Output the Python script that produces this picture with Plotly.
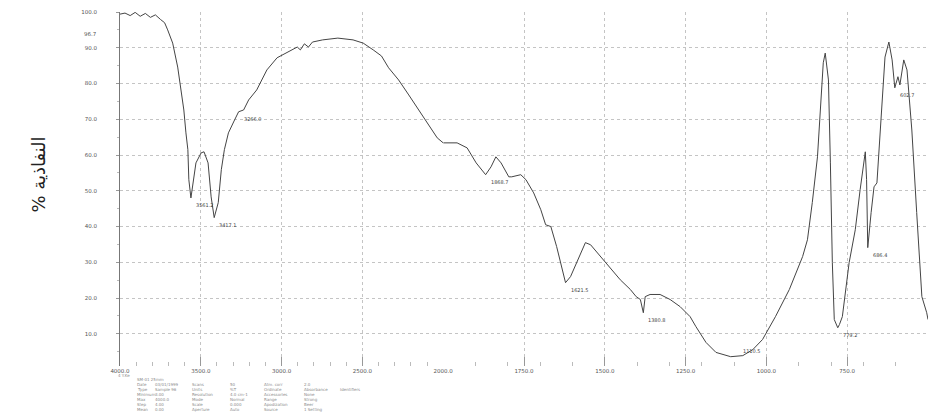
import plotly.graph_objects as go

# FT-IR spectrum: wavenumber (cm-1) against transmittance (%T)
wavenumber = [
    4000, 3969, 3937, 3906, 3875, 3843, 3812, 3781, 3749, 3724, 3705, 3674, 3643, 3624,
    3605, 3592, 3580, 3574, 3530, 3498, 3480, 3455, 3436, 3392, 3373, 3354, 3329, 3291,
    3235, 3204, 3154, 3091, 3028, 2965, 2903, 2884, 2859, 2834, 2809, 2746, 2652, 2558,
    2495, 2433, 2401, 2382, 2338, 2276, 2213, 2150, 2087, 2037, 2000, 1957, 1926, 1898,
    1852, 1837, 1821, 1797, 1788, 1760, 1744, 1720, 1698, 1683, 1667, 1649, 1637, 1606,
    1587, 1560, 1544, 1526, 1498, 1452, 1421, 1403, 1390, 1375, 1360, 1329, 1298, 1267,
    1236, 1218, 1187, 1156, 1073, 1042, 1012, 972, 929, 888, 873, 858, 842, 833, 824,
    818, 808, 802, 796, 790, 785, 782, 774, 765, 744, 725, 710, 694, 690, 676, 667, 658,
    642, 633, 621, 611, 593, 587, 575, 565, 550, 535, 519, 504, 500,
]
transmittance = [
    99.4, 99.7, 99.0, 99.9, 98.8, 99.6, 98.5, 99.2, 97.9, 97.0, 95.0, 91.3, 84.6, 79.1,
    72.6, 66.2, 61.5, 53.1, 57.8, 60.6, 60.9, 57.8, 48.3, 46.7, 55.9, 61.5, 66.2, 69.8,
    72.6, 75.4, 78.2, 83.8, 87.2, 88.8, 90.2, 89.4, 91.1, 90.2, 91.6, 92.2, 92.7, 92.2,
    91.3, 89.4, 88.3, 87.7, 84.4, 81.0, 76.8, 72.6, 68.4, 64.8, 63.4, 63.4, 62.0, 57.8,
    56.7, 59.5, 57.8, 53.9, 53.9, 54.5, 53.1, 49.4, 44.7, 40.5, 40.0, 34.4, 29.9, 26.0,
    29.9, 35.5, 34.9, 33.0, 29.9, 25.1, 22.4, 20.4, 19.6, 20.4, 21.0, 21.0, 19.6, 17.6,
    14.8, 12.0, 7.6, 4.8, 3.9, 5.6, 8.4, 14.8, 22.4, 31.6, 36.3, 46.7, 59.5, 71.8, 85.8,
    88.5, 81.0, 57.8, 29.9, 14.0, 13.1, 12.6, 12.6, 14.8, 29.9, 39.1, 50.3, 60.9, 53.1, 43.9, 51.1, 52.2,
    76.3, 87.4, 91.6, 86.6, 81.9, 79.6, 86.6, 83.8, 67.0, 43.9, 20.4, 15.9, 14.0,
]

# labelled band positions
peak_wavenumber = [3561.2, 3417.1, 3266.0, 1868.7, 1621.5, 1380.8, 1110.5, 779.2, 686.4, 602.7]
peak_transmittance = [48.0, 42.5, 72.1, 54.5, 24.3, 15.9, 3.6, 11.7, 34.1, 78.8]

high_ticks = [4000, 3500, 3000, 2500, 2000]
low_ticks = [1750, 1500, 1250, 1000, 750, 500]
t_ticks = [10, 20, 30, 40, 50, 60, 70, 80, 90, 100]

y_title = "% النفاذية"

info_rows = [
    ["Date", "Type", "Minimum", "Max", "Step", "Mean"],
    ["03/01/1999", "Sample 96", "3.00", "4000.0", "4.00", "0.00"],
    ["Scans", "Units", "Resolution", "Mode", "Scale", "Aperture"],
    ["50", "%T", "4.0 cm-1", "Normal", "0.000", "Auto"],
    ["Atm. corr", "Ordinate", "Accessories", "Range", "Apodization", "Source"],
    ["2.0", "Absorbance", "None", "Strong", "Beer", "1 Setting"],
]

# merge the band points into the curve so every label sits on the drawn line
pts = sorted(zip(wavenumber + peak_wavenumber, transmittance + peak_transmittance), reverse=True)
high = [p for p in pts if p[0] >= 2000]
low = [p for p in pts if p[0] <= 2000]

LINE = dict(color="#444", width=1)
fig = go.Figure()
fig.add_trace(go.Scatter(x=[p[0] for p in high], y=[p[1] for p in high], mode="lines",
                         line=LINE, xaxis="x", yaxis="y", hoverinfo="skip"))
fig.add_trace(go.Scatter(x=[p[0] for p in low], y=[p[1] for p in low], mode="lines",
                         line=LINE, xaxis="x2", yaxis="y", hoverinfo="skip"))

tick_font = dict(family="DejaVu Sans", size=5.5, color="#555")
small_font = dict(family="DejaVu Sans", size=4, color="#8a8a8a")
grid = dict(showgrid=True, gridcolor="#c4c4c4", gridwidth=1, griddash="dot", zeroline=False)
xcommon = dict(tickformat=".1f", ticks="inside", ticklen=9, tickcolor="#999", tickwidth=1,
               showline=False, tickfont=tick_font, anchor="y", automargin=False,
               minor=dict(ticks="inside", ticklen=4, tickcolor="#bbb", showgrid=False), **grid)

PLOT_L, PLOT_R, PLOT_T, PLOT_B = 120, 928, 12, 366
W, H = 930, 417

fig.update_layout(
    width=W, height=H,
    margin=dict(l=PLOT_L, r=W - PLOT_R, t=PLOT_T, b=H - PLOT_B, autoexpand=False),
    paper_bgcolor="white", plot_bgcolor="white",
    showlegend=False,
    xaxis=dict(domain=[0, 0.4], range=[4000, 2000], tickvals=high_ticks, **xcommon),
    xaxis2=dict(domain=[0.4, 1.0], range=[2000, 500], tickvals=low_ticks, **xcommon),
    yaxis=dict(range=[1, 100], tickvals=t_ticks, tickformat=".1f", tickfont=tick_font,
               showline=True, linecolor="#777", linewidth=1, ticks="outside", ticklen=3,
               tickcolor="#999", ticklabelstandoff=18, automargin=False,
               minor=dict(ticks="outside", ticklen=2, tickcolor="#bbb", dtick=5, showgrid=False),
               **grid),
)

def px_x(px):
    return (px - PLOT_L) / (PLOT_R - PLOT_L)

def px_y(py):
    return (PLOT_B - py) / (PLOT_B - PLOT_T)

ann = []
# band labels
for w, t in zip(peak_wavenumber, peak_transmittance):
    xr = "x" if w > 2000 else "x2"
    above = t < 6
    ann.append(dict(x=w, y=t, xref=xr, yref="y", text=f"{w:.1f}", showarrow=False,
                    xanchor="left", yanchor="bottom" if above else "top",
                    xshift=10 if above else 3, yshift=1 if above else -2,
                    font=dict(family="DejaVu Sans", size=5, color="#444")))

# ordinate label
ann.append(dict(x=px_x(25), y=px_y(175), xref="paper", yref="paper", text=y_title,
                textangle=-90, showarrow=False,
                font=dict(family="DejaVu Sans", size=18, color="#222")))
# extra ordinate mark near the top of the scale
ann.append(dict(x=px_x(99), y=px_y(29), xref="paper", yref="paper", text="96.7",
                showarrow=False, xanchor="right", font=tick_font))

# instrument header block under the abscissa
ann.append(dict(x=px_x(116), y=px_y(380), xref="paper", yref="paper", text="4 Y.Ke",
                showarrow=False, xanchor="left", font=small_font))
ann.append(dict(x=px_x(135), y=px_y(384), xref="paper", yref="paper", text="SM-01 25mm",
                showarrow=False, xanchor="left", font=small_font))
col_x = [135, 153, 190, 228, 262, 302]
row_y = [389, 394, 399, 404, 409, 414]
for cx, col in zip(col_x, info_rows):
    for ry, txt in zip(row_y, col):
        ann.append(dict(x=px_x(cx), y=px_y(ry), xref="paper", yref="paper", text=txt,
                        showarrow=False, xanchor="left", font=small_font))
ann.append(dict(x=px_x(338), y=px_y(394), xref="paper", yref="paper", text="Identifiers",
                showarrow=False, xanchor="left", font=small_font))

fig.update_layout(annotations=ann)
fig.write_html("out.html")
